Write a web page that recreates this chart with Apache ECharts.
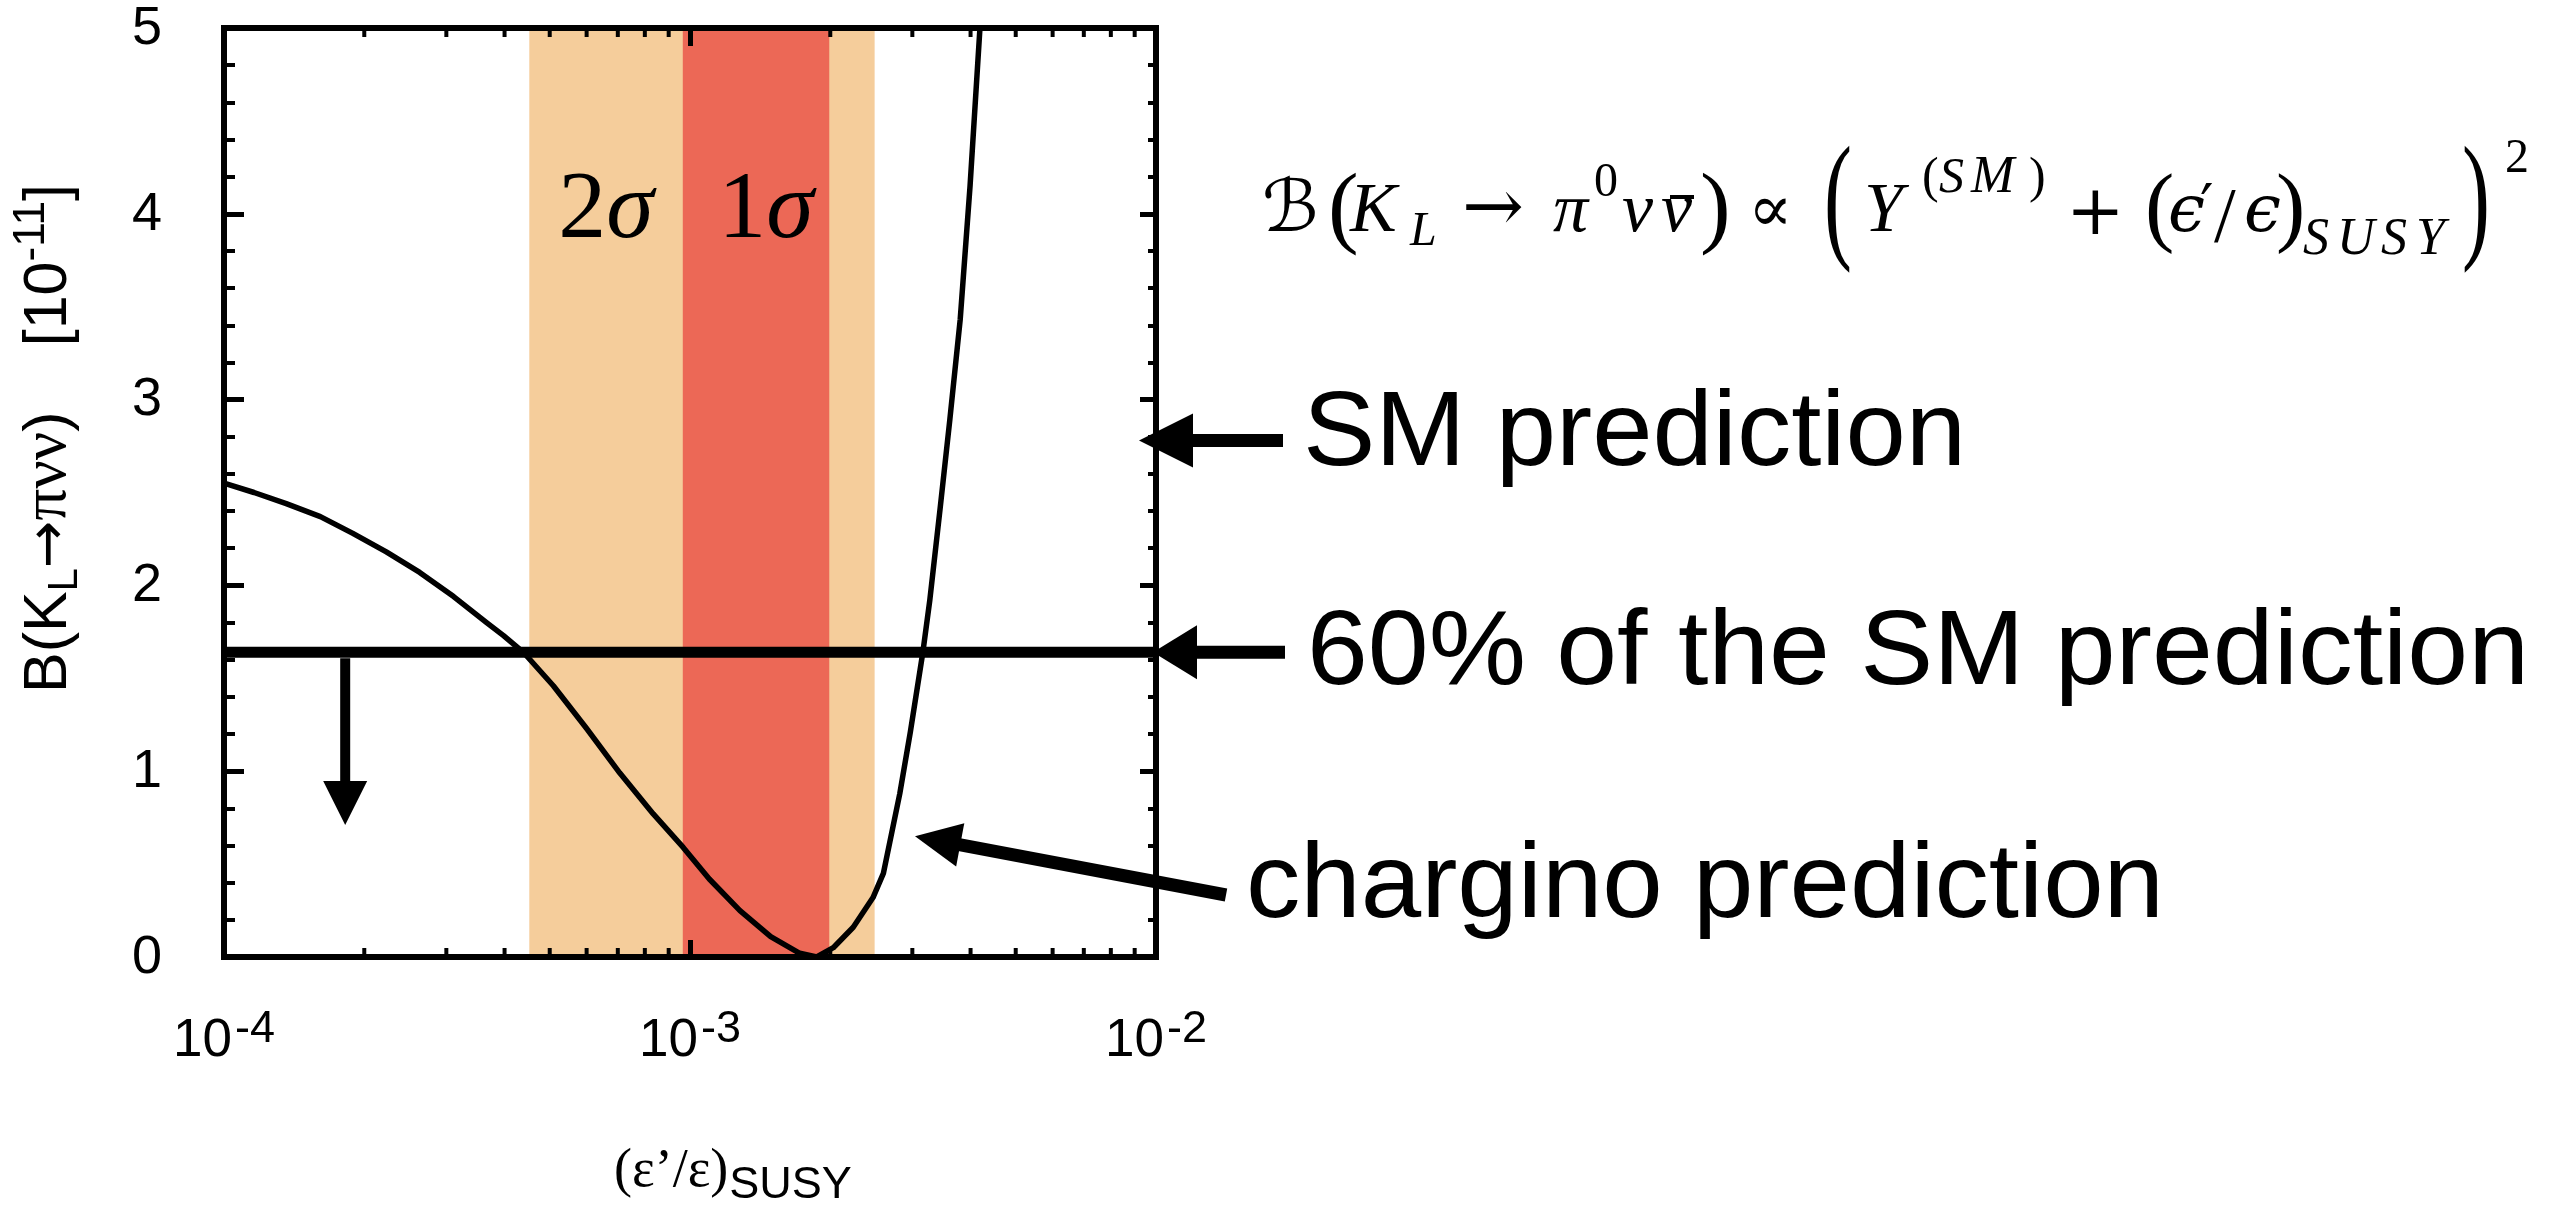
<!DOCTYPE html>
<html><head><meta charset="utf-8">
<script src="https://cdn.jsdelivr.net/npm/echarts@6/dist/echarts.min.js"></script>
<style>html,body{margin:0;padding:0;background:#fff}#c{width:2556px;height:1205px}</style>
</head><body><div id="c"></div>
<script>
// ---------------- data ----------------
const curveX = [1.00e-4, 1.16e-4, 1.36e-4, 1.61e-4, 1.89e-4, 2.23e-4, 2.63e-4, 3.11e-4, 3.66e-4, 3.98e-4, 4.39e-4, 5.09e-4, 6.00e-4, 7.07e-4, 8.34e-4, 9.67e-4, 1.10e-3, 1.28e-3, 1.49e-3, 1.72e-3, 1.87e-3, 2.03e-3, 2.24e-3, 2.47e-3, 2.60e-3, 2.82e-3, 2.97e-3, 3.16e-3, 3.27e-3, 3.44e-3, 3.61e-3, 3.80e-3, 3.99e-3, 4.19e-3];
const curveY = [2.55, 2.50, 2.44, 2.37, 2.28, 2.18, 2.07, 1.94, 1.80, 1.73, 1.64, 1.46, 1.23, 0.99, 0.77, 0.59, 0.42, 0.25, 0.11, 0.02, 0.00, 0.05, 0.16, 0.32, 0.45, 0.88, 1.21, 1.64, 1.92, 2.41, 2.89, 3.43, 4.15, 5.00];
const sigma2 = [4.52e-4, 2.49e-3];
const sigma1 = [9.65e-4, 1.99e-3];
const smPrediction = 2.78;
const limit60 = 1.64;
const xMin = 1e-4, xMax = 1e-2;
const yMin = 0, yMax = 5, yInterval = 1;
const xMajorTicks = [1e-4, 1e-3, 1e-2];
const xTickBase = ['10', '10', '10'];
const xTickExp = ['-4', '-3', '-2'];
const yTickValues = [0, 1, 2, 3, 4, 5];
const yTickLabels = ['0', '1', '2', '3', '4', '5'];
const xMinorTicks = [2e-4,3e-4,4e-4,5e-4,6e-4,7e-4,8e-4,9e-4,2e-3,3e-3,4e-3,5e-3,6e-3,7e-3,8e-3,9e-3];
const downArrow = {x: 1.82e-4, to: 0.71};
const chargTip = [3.04e-3, 0.65];

// ---------------- styles ----------------
const SANS = '"Liberation Sans", Arial, Helvetica, sans-serif';
const SERIF = '"Liberation Serif", "Times New Roman", serif';
const MATH = '"DejaVu Serif", "DejaVu Sans", serif';
const bandColors = ['#F5CD9B', '#EC6856'];

const chart = echarts.init(document.getElementById('c'), null, {renderer: 'canvas'});

const axisLineStyle = {color: '#000', width: 6, cap: 'square'};
const option = {
  animation: false,
  backgroundColor: '#fff',
  grid: {left: 224, right: 1400, top: 28, bottom: 248, containLabel: false, outerBoundsMode: 'none'},
  xAxis: [
    {type: 'log', logBase: 10, min: xMin, max: xMax, position: 'bottom', z: 10,
     axisLine: {show: true, onZero: false, lineStyle: axisLineStyle},
     axisTick: {show: true, inside: true, length: 17, lineStyle: {color: '#000', width: 5}},
     minorTick: {show: false}, splitLine: {show: false}, minorSplitLine: {show: false},
     axisLabel: {show: false}
    },
    {type: 'log', logBase: 10, min: xMin, max: xMax, position: 'top', z: 10,
     axisLine: {show: true, onZero: false, lineStyle: axisLineStyle},
     axisTick: {show: true, inside: true, length: 18, lineStyle: {color: '#000', width: 5}},
     minorTick: {show: false}, splitLine: {show: false}, axisLabel: {show: false}
    }
  ],
  yAxis: [
    {type: 'value', min: yMin, max: yMax, interval: yInterval, position: 'left', z: 10,
     axisLine: {show: true, onZero: false, lineStyle: axisLineStyle},
     axisTick: {show: true, inside: true, length: 20, lineStyle: {color: '#000', width: 5}},
     minorTick: {show: true, splitNumber: 5, length: 11, lineStyle: {color: '#000', width: 4}},
     splitLine: {show: false}, minorSplitLine: {show: false},
     axisLabel: {show: false}
    },
    {type: 'value', min: yMin, max: yMax, interval: yInterval, position: 'right', z: 10,
     axisLine: {show: true, onZero: false, lineStyle: axisLineStyle},
     axisTick: {show: true, inside: true, length: 16, lineStyle: {color: '#000', width: 5}},
     minorTick: {show: true, splitNumber: 5, length: 8, lineStyle: {color: '#000', width: 4}},
     splitLine: {show: false}, minorSplitLine: {show: false},
     axisLabel: {show: false}
    }
  ],
  series: [
    {type: 'custom', name: 'bands', xAxisIndex: 0, yAxisIndex: 0, z: 1, silent: true, clip: true,
     encode: {x: [0, 1]},
     data: [
       {value: [sigma2[0], sigma2[1]], itemStyle: {color: bandColors[0]}},
       {value: [sigma1[0], sigma1[1]], itemStyle: {color: bandColors[1]}}
     ],
     renderItem: (p, api) => {
       const a = api.coord([api.value(0), yMax]);
       const b = api.coord([api.value(1), yMin]);
       return {type: 'rect', shape: {x: a[0], y: a[1], width: b[0] - a[0], height: b[1] - a[1]},
               style: {fill: api.visual('color')}};
     }
    },
    {type: 'line', name: 'chargino', xAxisIndex: 0, yAxisIndex: 0, z: 3, silent: true,
     data: curveX.map((x, i) => [x, curveY[i]]),
     showSymbol: false, symbol: 'none', smooth: false, clip: true,
     lineStyle: {color: '#000', width: 5.5, join: 'round'}
    },
    {type: 'line', name: 'limit', xAxisIndex: 0, yAxisIndex: 0, z: 4, silent: true,
     data: [[xMin, limit60], [xMax, limit60]],
     showSymbol: false, symbol: 'none', lineStyle: {color: '#000', width: 11}
    },
    {type: 'custom', name: 'minorX', xAxisIndex: 0, yAxisIndex: 0, z: 12, silent: true, clip: false,
     encode: {x: 0, y: 1},
     data: xMinorTicks.map(v => [v, yMin]),
     renderItem: (p, api) => {
       const v = api.value(0);
       const b = api.coord([v, yMin]);
       const t = api.coord([v, yMax]);
       return {type: 'group', children: [
         {type: 'line', shape: {x1: b[0], y1: b[1], x2: b[0], y2: b[1] - 9}, style: {stroke: '#000', lineWidth: 4}},
         {type: 'line', shape: {x1: t[0], y1: t[1], x2: t[0], y2: t[1] + 9}, style: {stroke: '#000', lineWidth: 4}}
       ]};
     }
    }
  ]
};
chart.setOption(option);

// ---------------- annotations ----------------
const mctx = document.createElement('canvas').getContext('2d');
function fontStr(st, s, fam) { return (st || 'normal') + ' normal ' + s + 'px ' + fam; }
function measure(t, st, s, fam) { mctx.font = fontStr(st, s, fam); return mctx.measureText(t).width; }
function T(t, x, base, s, fam, st, extra) {
  return Object.assign({
    type: 'text', z: 100, silent: true, x: x, y: base - 0.345 * s,
    style: {text: t, x: 0, y: 0, fill: '#000', font: fontStr(st, s, fam), align: 'left', verticalAlign: 'middle'}
  }, extra || {});
}
function fitT(t, x, base, s, fam, target) {
  const w = measure(t, 'normal', s, fam);
  return T(t, x, base, s, fam, 'normal', {scaleX: target / w});
}
function run(pieces, x0, base, k) {
  k = k || 1;
  let x = x0; const out = [];
  pieces.forEach(p => {
    if (p.gap) { x += p.gap * k; return; }
    const s = p.s * k;
    out.push(T(p.t, x, base + (p.dy || 0) * k, s, p.fam, p.st));
    x += measure(p.t, p.st, s, p.fam);
  });
  return {els: out, width: x - x0};
}
function runWidth(pieces) { return run(pieces, 0, 0, 1).width; }
function centerRun(pieces, cx, base) {
  const w = runWidth(pieces);
  return run(pieces, cx - w / 2, base).els;
}
function arrow(x1, y1, x2, y2, w, hl, hw) {
  const dx = x2 - x1, dy = y2 - y1, L = Math.hypot(dx, dy), ux = dx / L, uy = dy / L, px = -uy, py = ux;
  const bx = x2 - ux * hl, by = y2 - uy * hl;
  return [
    {type: 'line', z: 100, silent: true, shape: {x1: x1, y1: y1, x2: bx + ux, y2: by + uy}, style: {stroke: '#000', lineWidth: w}},
    {type: 'polygon', z: 100, silent: true, shape: {points: [[x2, y2], [bx + px * hw, by + py * hw], [bx - px * hw, by - py * hw]]}, style: {fill: '#000'}}
  ];
}

const P = (x, y) => chart.convertToPixel({xAxisIndex: 0, yAxisIndex: 0}, [x, y]);
const leftX = P(xMin, 0)[0];
const bottomY = P(xMin, yMin)[1];
const rightX = P(xMax, 0)[0];
const ySM = P(xMax, smPrediction)[1];
const yLim = P(xMax, limit60)[1];
const g = [];

// tick labels (positioned through the axis scales)
yTickValues.forEach((v, i) => {
  const py = P(xMin, v)[1];
  g.push({type: 'text', z: 100, silent: true, x: leftX - 62, y: py + 1,
    style: {text: yTickLabels[i], x: 0, y: 0, fill: '#000', font: fontStr('normal', 54, SANS), align: 'right', verticalAlign: 'middle'}});
});
xMajorTicks.forEach((v, i) => {
  const px = P(v, yMin)[0];
  g.push(...centerRun([
    {t: xTickBase[i], fam: SANS, s: 53, st: 'normal'},
    {gap: 3},
    {t: xTickExp[i], fam: SANS, s: 45, st: 'normal', dy: -15}
  ], px, bottomY + 103));
});

// arrows
g.push(...arrow(rightX + 127, ySM, rightX - 17, ySM, 13, 54, 27));
g.push(...arrow(rightX + 129, yLim, rightX - 3, yLim, 13, 44, 27));
const dA = P(downArrow.x, limit60), dB = P(downArrow.x, downArrow.to);
g.push(...arrow(dA[0], dA[1] + 6, dB[0], dB[1], 10, 44, 22));
const cT = P(chargTip[0], chargTip[1]);
g.push(...arrow(1226, 895, cT[0], cT[1], 13, 46, 22));

// right texts
g.push(fitT('SM prediction', 1303, 472, 106, SANS, 663));
g.push(fitT('60% of the SM prediction', 1307, 691, 106, SANS, 1222));
g.push(fitT('chargino prediction', 1246, 924, 106, SANS, 918));

// sigma labels
g.push(...centerRun([{t: '2', fam: SERIF, s: 96, st: 'normal'}, {t: 'σ', fam: SERIF, s: 96, st: 'italic'}], 606, 245));
g.push(...centerRun([{t: '1', fam: SERIF, s: 96, st: 'normal'}, {t: 'σ', fam: SERIF, s: 96, st: 'italic'}], 766, 245));

// x axis name
const xn1 = run([{t: '(ε’/ε)', fam: SERIF, s: 54, st: 'normal'}], 614, 1190);
g.push(...xn1.els);
g.push(T('SUSY', 614 + xn1.width + 1, 1201, 45, SANS, 'normal'));

// y axis name (rotated)
const ylPieces = [
  {t: 'B(K', fam: SANS, s: 58},
  {t: 'L', fam: SANS, s: 40, dy: 9},
  {t: '→', fam: '"DejaVu Sans", sans-serif', s: 54},
  {t: 'πνν', fam: SERIF, s: 60},
  {t: ')', fam: SANS, s: 58},
  {gap: 62},
  {t: '[10', fam: SANS, s: 58},
  {t: '-11', fam: SANS, s: 42, dy: -22},
  {t: ']', fam: SANS, s: 58}
];
const ylK = 509 / runWidth(ylPieces);
const yl = run(ylPieces, 0, 0, ylK);
g.push({type: 'group', x: 27 + 0.716 * 58 * ylK, y: 693, rotation: Math.PI / 2, children: yl.els, z: 100, silent: true});

// formula
const F = [
  T('ℬ', 1262, 237, 72, '"DejaVu Sans", "DejaVu Serif", serif', 'normal'),
  T('(', 1328, 244, 92, SERIF, 'normal'),
  T('K', 1350, 237, 70, SERIF, 'italic'),
  T('L', 1410, 249, 48, SERIF, 'italic'),
  T('→', 1462, 237, 74, MATH, 'normal'),
  T('π', 1553, 237, 70, SERIF, 'italic'),
  T('0', 1594, 200, 48, SERIF, 'normal'),
  T('ν', 1622, 237, 70, SERIF, 'italic'),
  T('ν', 1661, 237, 70, SERIF, 'italic'),
  T(')', 1700, 244, 92, SERIF, 'normal'),
  T('∝', 1748, 237, 66, MATH, 'normal'),
  T('(', 1824, 255, 140, SERIF, 'normal', {scaleX: 0.6}),
  T('Y', 1864, 237, 70, SERIF, 'italic'),
  T('(', 1922, 196, 50, SERIF, 'normal'),
  T('S', 1939, 196, 50, SERIF, 'italic'),
  T('M', 1971, 196, 52, SERIF, 'italic'),
  T(')', 2029, 196, 50, SERIF, 'normal'),
  T('+', 2066, 240, 70, MATH, 'normal'),
  T('(', 2145, 242, 88, SERIF, 'normal'),
  T('ϵ', 2168, 237, 66, MATH, 'italic'),
  T('′', 2200, 232, 60, MATH, 'normal'),
  T('/', 2214, 247, 78, SERIF, 'normal'),
  T('ϵ', 2244, 237, 66, MATH, 'italic'),
  T(')', 2276, 242, 88, SERIF, 'normal'),
  T('S', 2303, 258, 52, SERIF, 'italic'),
  T('U', 2337, 258, 52, SERIF, 'italic'),
  T('S', 2381, 258, 52, SERIF, 'italic'),
  T('Y', 2416, 258, 52, SERIF, 'italic'),
  T(')', 2462, 255, 140, SERIF, 'normal', {scaleX: 0.6}),
  T('2', 2505, 176, 48, SERIF, 'normal'),
  {type: 'line', z: 100, silent: true, shape: {x1: 1670, y1: 197, x2: 1694, y2: 197}, style: {stroke: '#000', lineWidth: 4}}
];
g.push(...F);

chart.setOption({graphic: {elements: g}});
</script>
</body></html>
